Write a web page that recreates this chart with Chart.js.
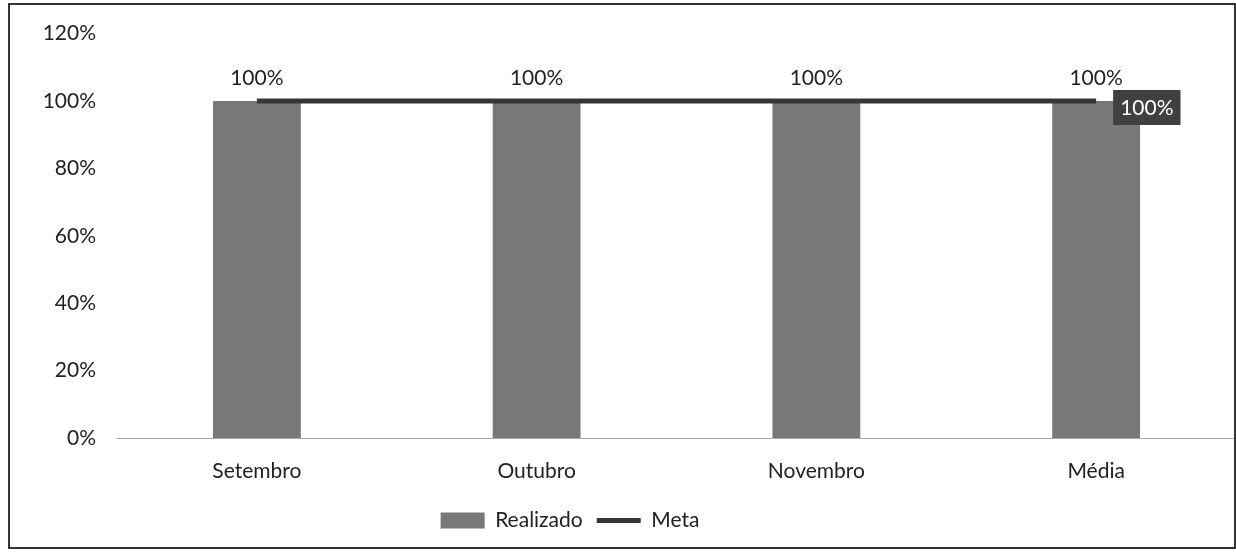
<!DOCTYPE html>
<html lang="pt">
<head>
<meta charset="UTF-8">
<title>Realizado x Meta</title>
<script src="https://cdn.jsdelivr.net/npm/chart.js"></script>
<style>
  html, body { margin: 0; padding: 0; background: #fff; }
  #wrap { width: 1236px; height: 554px; position: relative; }
</style>
</head>
<body>
<div id="wrap"><canvas id="grafico"></canvas></div>
<script>
// dados
const meses = ['Setembro', 'Outubro', 'Novembro', 'Média'];
const realizado = [1.00, 1.00, 1.00, 1.00];
const meta = [1.00, 1.00, 1.00, 1.00];
const ticksY = [0, 0.2, 0.4, 0.6, 0.8, 1.0, 1.2];

const fonte = 'Lato, "Open Sans", sans-serif';
const tam = 21;
const pct = v => Math.round(v * 100) + '%';

// moldura + rotulos dos valores
const extras = {
  id: 'extras',
  afterLayout(chart) {
    // legenda um pouco a esquerda, como no original
    const lg = chart.legend;
    if (lg) { lg.left -= 48; lg.right -= 48; }
  },
  afterDraw(chart) {
    const c = chart.ctx;
    c.save();
    c.strokeStyle = '#333';
    c.lineWidth = 2;
    c.strokeRect(9, 4, 1226, 544);

    c.font = tam + 'px ' + fonte;
    c.fillStyle = '#222';
    c.textAlign = 'center';
    c.textBaseline = 'middle';
    chart.getDatasetMeta(0).data.forEach((bar, i) => {
      c.fillText(pct(realizado[i]), bar.x, bar.y - 23);
    });

    // rotulo da meta no ultimo ponto
    const pts = chart.getDatasetMeta(1).data;
    const last = pts[pts.length - 1];
    const txt = pct(meta[meta.length - 1]);
    const w = c.measureText(txt).width + 14;
    const bx = last.x + 17, by = last.y - 11;
    c.fillStyle = '#404040';
    c.fillRect(bx, by, w, 35);
    c.fillStyle = '#fff';
    c.textAlign = 'left';
    c.fillText(txt, bx + 7, by + 18);
    c.restore();
  }
};

new Chart(document.getElementById('grafico'), {
  data: {
    labels: meses,
    datasets: [
      {
        type: 'bar',
        label: 'Realizado',
        data: realizado,
        backgroundColor: '#787878',
        categoryPercentage: 1,
        barPercentage: 0.314,
        order: 2
      },
      {
        type: 'line',
        label: 'Meta',
        data: meta,
        borderColor: '#363636',
        backgroundColor: '#363636',
        borderWidth: 5,
        pointRadius: 0,
        pointStyle: 'line',
        order: 1
      }
    ]
  },
  options: {
    responsive: true,
    maintainAspectRatio: false,
    animation: false,
    layout: { padding: { top: 26, right: 0, bottom: 13, left: 0 } },
    scales: {
      x: {
        offset: true,
        grid: { display: false, drawTicks: false },
        border: { display: true, color: '#aaa', dash: [2, 2], width: 1 },
        ticks: { color: '#222', font: { family: fonte, size: tam }, padding: 21 },
        afterFit(s) { s.height = 58; }
      },
      y: {
        min: 0,
        max: 1.2,
        afterBuildTicks(s) { s.ticks = ticksY.map(v => ({ value: v })); },
        grid: { display: false, drawTicks: false },
        border: { display: false },
        ticks: {
          color: '#222',
          font: { family: fonte, size: tam },
          padding: 21,
          callback: v => pct(v)
        },
        afterFit(s) { s.width = 117; }
      }
    },
    plugins: {
      tooltip: { enabled: false },
      legend: {
        position: 'bottom',
        labels: {
          color: '#222',
          font: { family: fonte, size: tam },
          usePointStyle: true,
          pointStyleWidth: 44,
          boxHeight: 16,
          padding: 14,
          generateLabels(chart) {
            return chart.data.datasets.map((d, i) => ({
              text: d.label,
              datasetIndex: i,
              fillStyle: d.backgroundColor,
              strokeStyle: d.type === 'line' ? d.borderColor : d.backgroundColor,
              lineWidth: d.type === 'line' ? 5 : 0,
              pointStyle: d.type === 'line' ? 'line' : 'rect',
              fontColor: '#222'
            }));
          }
        }
      }
    }
  },
  plugins: [extras]
});
</script>
</body>
</html>
